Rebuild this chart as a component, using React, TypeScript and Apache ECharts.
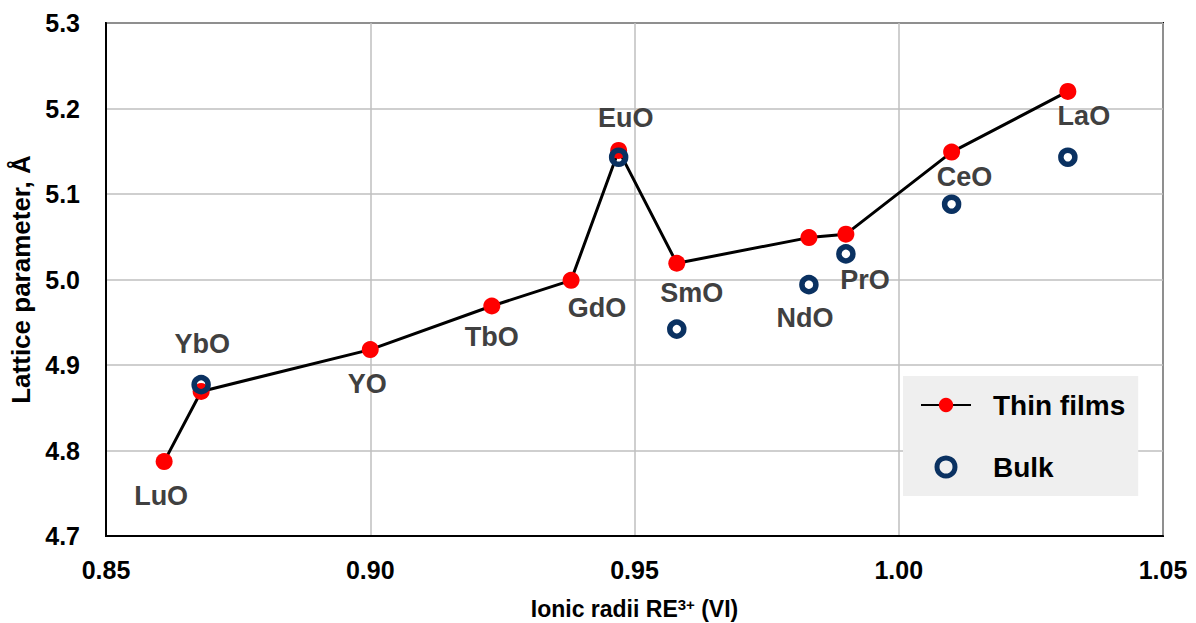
import React, { useEffect, useRef } from "react";
import * as echarts from "echarts";

const compounds = ["LuO", "YbO", "YO", "TbO", "GdO", "EuO", "SmO", "NdO", "PrO", "CeO", "LaO"];
const ionicRadii = [0.861, 0.868, 0.9, 0.923, 0.938, 0.947, 0.958, 0.983, 0.99, 1.01, 1.032];
const thinFilms = [4.787, 4.869, 4.918, 4.969, 4.999, 5.151, 5.019, 5.049, 5.053, 5.149, 5.22];

const bulkRadii = [0.868, 0.947, 0.958, 0.983, 0.99, 1.01, 1.032];
const bulkValues = [4.877, 5.143, 4.942, 4.994, 5.03, 5.088, 5.143];

// label offsets (pixels) relative to each thin-film point
const labelOffsets: [number, number][] = [
  [-3, 34], [1, -48], [-3, 34], [0, 31], [26, 28], [7, -32],
  [15, 30], [-4, 80], [19, 46], [13, 25], [16, 25],
];

const FONT = "'Liberation Sans', Arial, sans-serif";
const NAVY = "#0a3161";

export default function App() {
  const ref = useRef<HTMLDivElement>(null);
  useEffect(() => {
    document.body.style.margin = "0";
    const chart = echarts.init(ref.current!, null, { renderer: "svg" });
    chart.setOption({
      animation: false,
      textStyle: { fontFamily: FONT },
      grid: {
        left: 106,
        right: 33,
        top: 23,
        bottom: 87,
        show: true,
        borderColor: "#000",
        borderWidth: 2,
        containLabel: false,
        outerBoundsMode: "none",
      },
      legend: {
        orient: "vertical",
        left: 903,
        top: 376,
        backgroundColor: "#efefef",
        padding: [15, 13, 15, 17],
        itemWidth: 50,
        itemHeight: 18,
        itemGap: 34,
        textStyle: { fontSize: 28, fontWeight: "bold", color: "#000", fontFamily: FONT, padding: [0, 0, 0, 17] },
        data: [
          { name: "Thin films" },
          { name: "Bulk", itemStyle: { borderWidth: 5, borderColor: NAVY, color: "transparent", opacity: 1 } },
        ],
      },
      xAxis: {
        type: "value",
        min: 0.85,
        max: 1.05,
        interval: 0.05,
        name: "Ionic radii RE{sup|3+} (VI)",
        nameLocation: "middle",
        nameGap: 61,
        nameTextStyle: {
          fontSize: 23,
          fontWeight: "bold",
          color: "#000",
          fontFamily: FONT,
          rich: {
            sup: { fontSize: 15, fontWeight: "bold", color: "#000", verticalAlign: "top", padding: [0, 0, 9, 0], fontFamily: FONT },
          },
        },
        axisLine: { show: true, lineStyle: { color: "#000", width: 2 } },
        axisTick: { show: false },
        axisLabel: {
          fontSize: 25,
          fontWeight: "bold",
          color: "#000",
          margin: 21,
          fontFamily: FONT,
          formatter: (v: number) => v.toFixed(2),
        },
        splitLine: { show: true, lineStyle: { color: "#bfbfbf", width: 1.5 } },
      },
      yAxis: {
        type: "value",
        min: 4.7,
        max: 5.3,
        interval: 0.1,
        name: "Lattice parameter, Å",
        nameLocation: "middle",
        nameGap: 66,
        nameTextStyle: { fontSize: 26, fontWeight: "bold", color: "#000", fontFamily: FONT },
        axisLine: { show: true, lineStyle: { color: "#000", width: 2 } },
        axisTick: { show: false },
        axisLabel: {
          fontSize: 25,
          fontWeight: "bold",
          color: "#000",
          margin: 26,
          fontFamily: FONT,
          formatter: (v: number) => v.toFixed(1),
        },
        splitLine: { show: true, lineStyle: { color: "#bfbfbf", width: 1.5 } },
      },
      series: [
        {
          name: "Thin films",
          type: "line",
          symbol: "circle",
          symbolSize: 17,
          itemStyle: { color: "#ff0000" },
          lineStyle: { color: "#000", width: 3 },
          data: ionicRadii.map((x, i) => ({
            value: [x, thinFilms[i]],
            label: {
              show: true,
              position: "inside",
              offset: labelOffsets[i],
              formatter: compounds[i],
              fontSize: 27,
              fontWeight: "bold",
              color: "#404040",
              fontFamily: FONT,
            },
          })),
          z: 3,
        },
        {
          name: "Bulk",
          type: "scatter",
          symbol: "circle",
          symbolSize: 14,
          itemStyle: { color: "transparent", borderColor: NAVY, borderWidth: 5.5, opacity: 1 },
          data: bulkRadii.map((x, i) => [x, bulkValues[i]]),
          z: 4,
        },
      ],
    });
    return () => chart.dispose();
  }, []);
  return <div ref={ref} style={{ width: 1196, height: 623 }} />;
}
